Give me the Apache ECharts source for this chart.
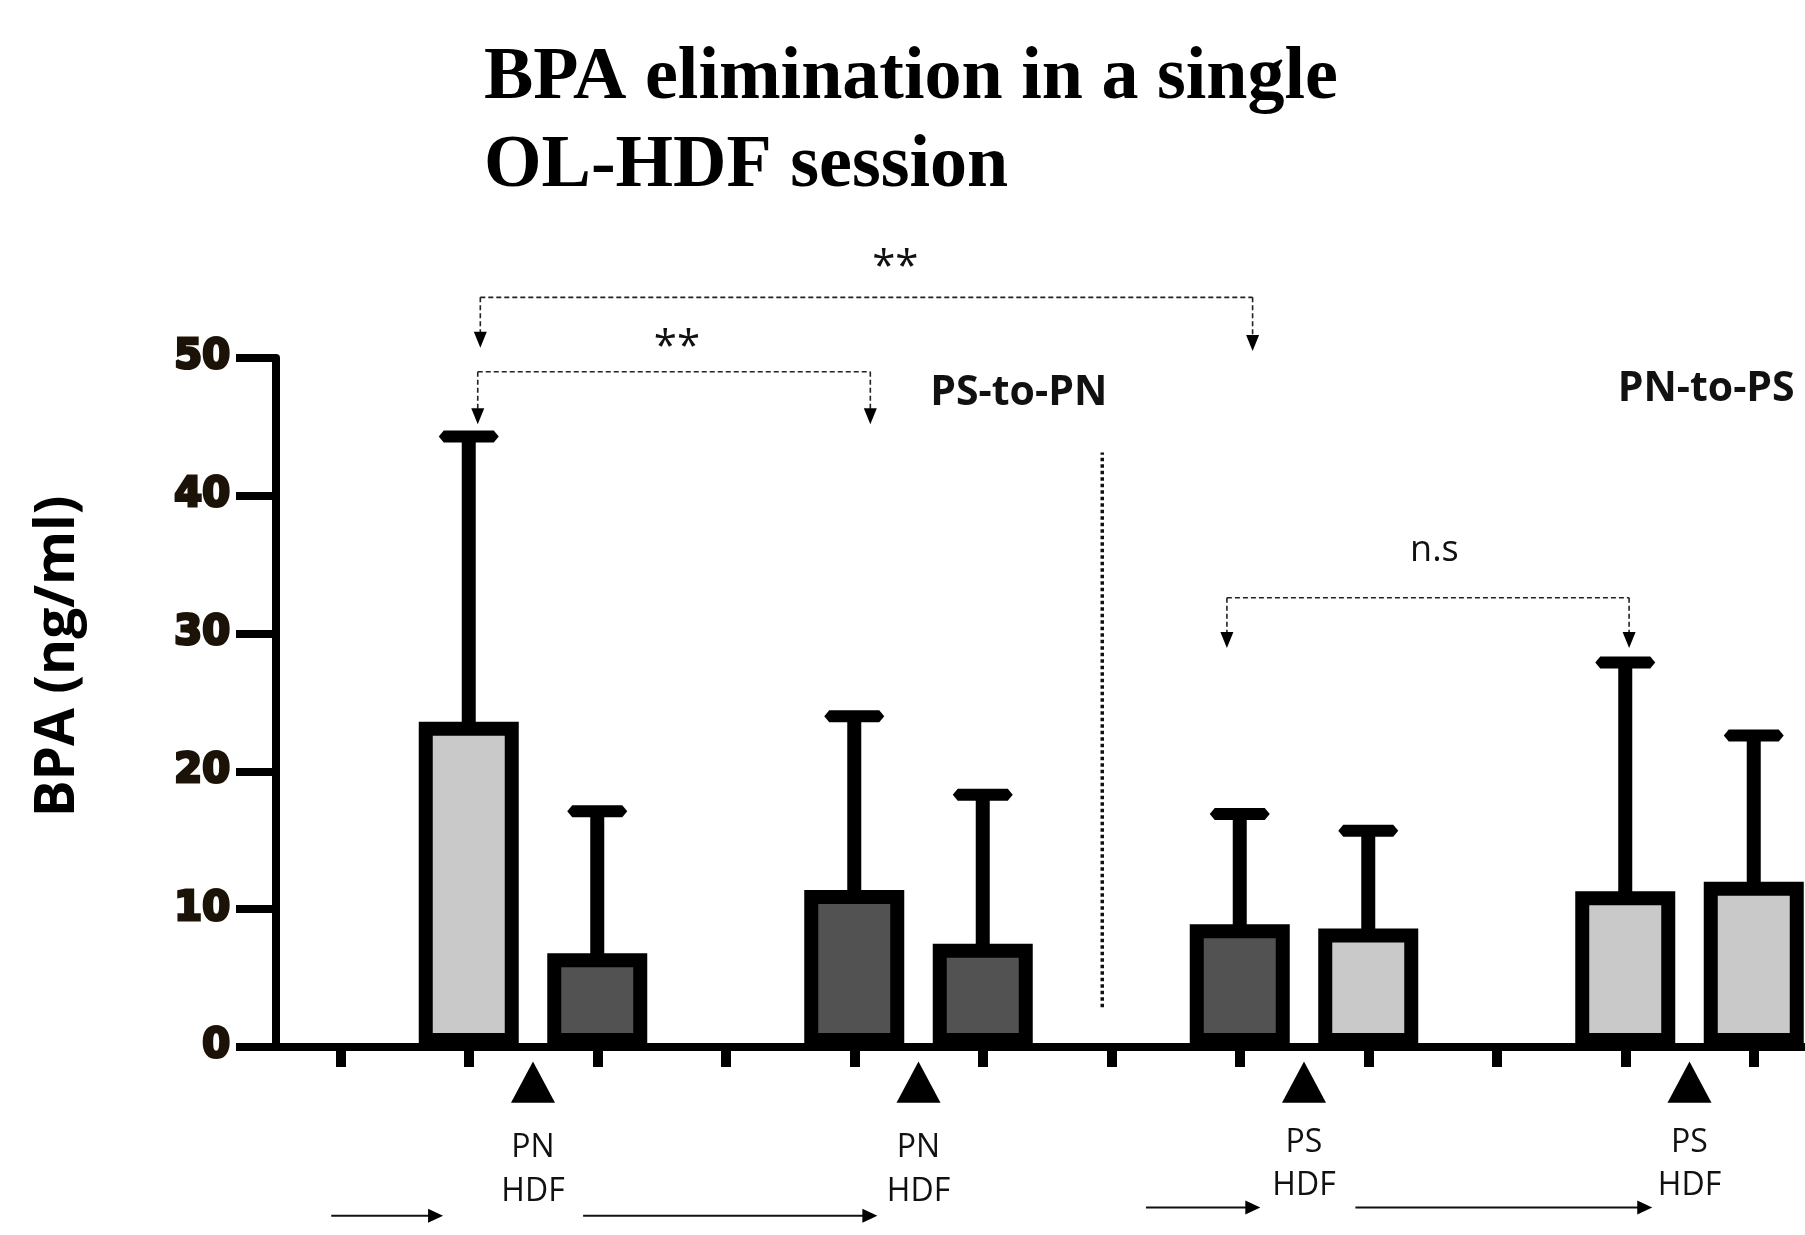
<!DOCTYPE html>
<html><head><meta charset="utf-8">
<script src="https://cdn.jsdelivr.net/npm/echarts@6/dist/echarts.min.js"></script>
<style>html,body{margin:0;padding:0;background:#fff}#c{width:1805px;height:1235px}</style>
</head><body><div id="c"></div>
<script>
// ---- data ----
const categories = ['gap0', 'PN1 pre', 'PN1 post', 'gap1', 'PN2 pre', 'PN2 post', 'gap2', 'PS1 pre', 'PS1 post', 'gap3', 'PS2 pre', 'PS2 post'];
const bpaMean  = [null, 23.6, 6.8, null, 11.4, 7.5, null, 8.9, 8.6, null, 11.3, 12.0];
const bpaUpper = [null, 44.3, 17.1, null, 24.0, 18.3, null, 16.9, 15.7, null, 27.9, 22.6];
const barShade = ['', 'light', 'dark', '', 'dark', 'dark', '', 'dark', 'light', '', 'light', 'light'];
const yMin = 0, yMax = 50, yStep = 10;
const hdfLabels = [['PN', 'HDF'], ['PN', 'HDF'], ['PS', 'HDF'], ['PS', 'HDF']];
const sigLabels = ['**', '**', 'n.s'];
const groupLabels = ['PS-to-PN', 'PN-to-PS'];

// ---- annotation layout (data units: x = category index, y = ng/ml) ----
const brackets = [
  {x1: 1.09, x2: 7.10, y: 54.4, t1: 50.75, t2: 50.5, lx: 4.32, ly: 56.5},
  {x1: 1.07, x2: 4.125, y: 49.0, t1: 45.2, t2: 45.2, lx: 2.62, ly: 50.7},
  {x1: 6.90, x2: 10.03, y: 32.6, t1: 28.95, t2: 28.95, lx: 8.515, ly: 36.0}
];
const hdfMarks = [
  {x: 1.5, l1: -7.33, l2: -10.49}, {x: 4.5, l1: -7.33, l2: -10.49},
  {x: 7.5, l1: -6.97, l2: -10.09}, {x: 10.5, l1: -6.97, l2: -10.09}
];
const triTop = -1.05, triBottom = -4.05;
const flowArrows = [
  {x1: -0.07, x2: 0.80, y: -12.24}, {x1: 1.89, x2: 4.18, y: -12.24},
  {x1: 6.27, x2: 7.16, y: -11.65}, {x1: 7.90, x2: 10.21, y: -11.65}
];
const divider = {x: 5.93, y1: 2.88, y2: 43.15};
const groupPos = [{x: 5.28, y: 47.4}, {x: 10.63, y: 47.75}];

const chart = echarts.init(document.getElementById('c'), null, {renderer: 'canvas'});

const barData = bpaMean.map((v, i) => v == null ? '-' : {
  value: v,
  itemStyle: {color: barShade[i] === 'light' ? '#c9c9c9' : '#525252'}
});
const errData = [];
bpaMean.forEach((v, i) => { if (v != null) errData.push([i, v, bpaUpper[i]]); });

function renderErr(params, api) {
  const b = api.coord([api.value(0), api.value(1)]);
  const t = api.coord([api.value(0), api.value(2)]);
  const cx = b[0], cy = t[1];
  return {type: 'group', children: [
    {type: 'line', shape: {x1: cx, y1: b[1] + 4, x2: cx, y2: cy}, style: {stroke: '#000', lineWidth: 14}},
    {type: 'polygon', shape: {points: [[cx - 30, cy], [cx - 25, cy - 6], [cx + 25, cy - 6], [cx + 30, cy], [cx + 25, cy + 6], [cx - 25, cy + 6]]}, style: {fill: '#000'}}
  ]};
}

function renderAnno(params, api) {
  const c = (x, y) => api.coord([x, y]);
  const kids = [];
  const dashStyle = {stroke: '#222', lineWidth: 1.6, lineDash: [5, 3]};
  brackets.forEach((b, k) => {
    const a = c(b.x1, b.y), d = c(b.x2, b.y), t1 = c(b.x1, b.t1), t2 = c(b.x2, b.t2);
    kids.push({type: 'line', shape: {x1: a[0], y1: a[1], x2: d[0], y2: d[1]}, style: dashStyle});
    [[a, t1], [d, t2]].forEach(([p, t]) => {
      kids.push({type: 'line', shape: {x1: p[0], y1: p[1], x2: p[0], y2: t[1] - 15}, style: dashStyle});
      kids.push({type: 'polygon', shape: {points: [[p[0] - 6.5, t[1] - 16], [p[0] + 6.5, t[1] - 16], [p[0], t[1]]]}, style: {fill: '#000'}});
    });
    const l = c(b.lx, b.ly);
    const isStar = sigLabels[k] === '**';
    kids.push({type: 'text', x: l[0], y: l[1], style: {text: sigLabels[k], fill: '#111', font: (isStar ? '42px' : '36px') + ' "Open Sans"', align: 'center', verticalAlign: 'middle'}});
  });
  hdfMarks.forEach((h, k) => {
    const t = c(h.x, triTop), bt = c(h.x, triBottom);
    kids.push({type: 'polygon', shape: {points: [[t[0], t[1]], [t[0] + 22, bt[1]], [t[0] - 22, bt[1]]]}, style: {fill: '#000'}});
    const p1 = c(h.x, h.l1), p2 = c(h.x, h.l2);
    kids.push({type: 'text', x: p1[0], y: p1[1], style: {text: hdfLabels[k][0], fill: '#111', font: '32px "Open Sans"', align: 'center', verticalAlign: 'middle'}});
    kids.push({type: 'text', x: p2[0], y: p2[1], style: {text: hdfLabels[k][1], fill: '#111', font: '32px "Open Sans"', align: 'center', verticalAlign: 'middle'}});
  });
  flowArrows.forEach(f => {
    const a = c(f.x1, f.y), d = c(f.x2, f.y);
    kids.push({type: 'line', shape: {x1: a[0], y1: a[1], x2: d[0] - 12, y2: d[1]}, style: {stroke: '#111', lineWidth: 2}});
    kids.push({type: 'polygon', shape: {points: [[d[0] - 15, d[1] - 7], [d[0] - 15, d[1] + 7], [d[0], d[1]]]}, style: {fill: '#000'}});
  });
  const v1 = c(divider.x, divider.y1), v2 = c(divider.x, divider.y2);
  kids.push({type: 'line', shape: {x1: v1[0], y1: v1[1], x2: v2[0], y2: v2[1]}, style: {stroke: '#111', lineWidth: 3.5, lineDash: [3.5, 3]}});
  groupPos.forEach((g, k) => {
    const p = c(g.x, g.y);
    kids.push({type: 'text', x: p[0], y: p[1], style: {text: groupLabels[k], fill: '#111', font: 'bold 41px "Open Sans"', align: 'center', verticalAlign: 'middle'}});
  });
  return {type: 'group', children: kids};
}

chart.setOption({
  animation: false,
  backgroundColor: '#fff',
  title: {
    text: 'BPA elimination in a single\nOL-HDF session',
    left: 479, top: 30,
    textStyle: {fontFamily: 'Liberation Serif', fontWeight: 'bold', fontSize: 74, lineHeight: 88, color: '#000'}
  },
  grid: {left: 276, top: 358, width: 1542, bottom: 188, containLabel: false, outerBoundsMode: 'none'},
  xAxis: [
    {type: 'category', data: categories, boundaryGap: true,
     axisLine: {onZero: false, lineStyle: {color: '#000', width: 8}},
     axisTick: {show: true, alignWithLabel: true, interval: 0, length: 20, lineStyle: {color: '#000', width: 10}},
     axisLabel: {show: false}, splitLine: {show: false}},
    {type: 'value', min: -0.5, max: 11.5, show: false, position: 'bottom'}
  ],
  yAxis: {
    type: 'value', min: yMin, max: yMax, interval: yStep,
    name: 'BPA (ng/ml)', nameLocation: 'middle', nameGap: 190,
    nameTextStyle: {fontFamily: 'Open Sans', fontWeight: 'bold', fontSize: 55, color: '#000', padding: [0, 0, 0, 92]},
    axisLine: {show: true, onZero: false, lineStyle: {color: '#000', width: 8}},
    axisTick: {show: true, length: 40, lineStyle: {color: '#000', width: 8}},
    axisLabel: {margin: 46, fontFamily: 'DejaVu Sans', fontWeight: 'bold', fontSize: 40, color: '#1c1308', textBorderColor: '#1c1308', textBorderWidth: 3},
    splitLine: {show: false}
  },
  series: [
    {type: 'bar', xAxisIndex: 0, data: barData, barWidth: 100,
     itemStyle: {borderColor: '#000', borderWidth: 14}, z: 2},
    {type: 'custom', xAxisIndex: 0, renderItem: renderErr, data: errData, z: 3, encode: {x: 0, y: [1, 2]}},
    {type: 'custom', xAxisIndex: 1, renderItem: renderAnno, data: [[0, 0]], z: 4, clip: false, silent: true}
  ]
});
</script>
</body></html>
